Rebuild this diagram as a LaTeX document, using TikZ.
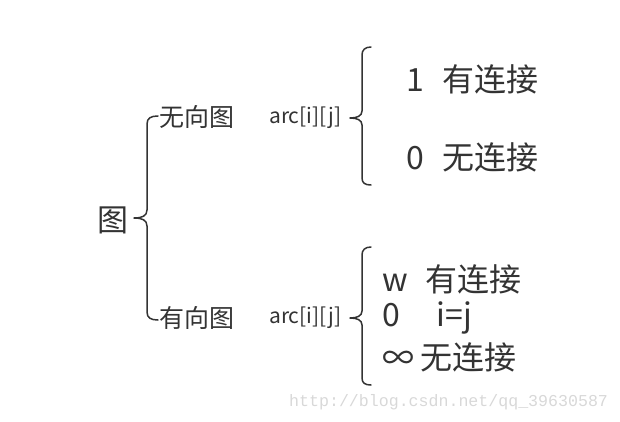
\documentclass[tikz,border=0pt]{standalone}
\usepackage{fontspec}
\newfontfamily\cjk{Noto Sans CJK SC}
\newfontfamily\wmfont{Liberation Mono}
\definecolor{ink}{HTML}{333333}
\definecolor{wm}{HTML}{D8D8D8}
\begin{document}
\begin{tikzpicture}[x=1pt,y=-1pt,
  txt/.style={inner sep=0pt,anchor=west,text=ink,font=\cjk\fontsize{#1}{#1}\selectfont},
  bracepath/.style={draw=ink,line width=1.5pt,line cap=round,line join=round}]
\useasboundingbox (0,0) rectangle (620,422);
% root
\node[txt=31] (root) at (97,220) {图};
\node[txt=25] (undir) at (159,117) {无向图};
\node[txt=25] (dir) at (159,318) {有向图};
\node[txt=21] (arcU) at (269,118) {arc[i][j]};
\node[txt=21] (arcD) at (269,318) {arc[i][j]};
\node[txt=32] (u1) at (406,79) {1\hspace{19pt}有连接};
\node[txt=32] (u0) at (406,157) {0\hspace{19pt}无连接};
\node[txt=32] (d1) at (382,279) {w\hspace{18pt}有连接};
\node[txt=32] (d2) at (382,318) {0\hspace{37pt}i=j};
\node[txt=32] (d3) at (382,357) {∞\hspace{6pt}无连接};
\node[inner sep=0pt,anchor=west,text=wm,font=\wmfont\fontsize{16.6}{16.6}\selectfont] (wmk) at (289,402) {http://blog.csdn.net/qq\_39630587};
% braces
\draw[bracepath] (158,116) .. controls (151,116) and (147,118) .. (147,124) -- (147,210) .. controls (147,216) and (142,218) .. (134,218) .. controls (142,218) and (147,220) .. (147,226) -- (147,312) .. controls (147,318) and (151,320) .. (158,320);
\draw[bracepath] (371,47) .. controls (365,47) and (362,50) .. (362,55) -- (362,111) .. controls (362,116) and (357,118) .. (350,118) .. controls (357,118) and (362,120) .. (362,125) -- (362,178) .. controls (362,183) and (365,185) .. (371,185);
\draw[bracepath] (371,247) .. controls (365,247) and (362,250) .. (362,255) -- (362,311) .. controls (362,316) and (357,318) .. (350,318) .. controls (357,318) and (362,320) .. (362,325) -- (362,378) .. controls (362,383) and (365,385) .. (371,385);
\end{tikzpicture}
\end{document}
